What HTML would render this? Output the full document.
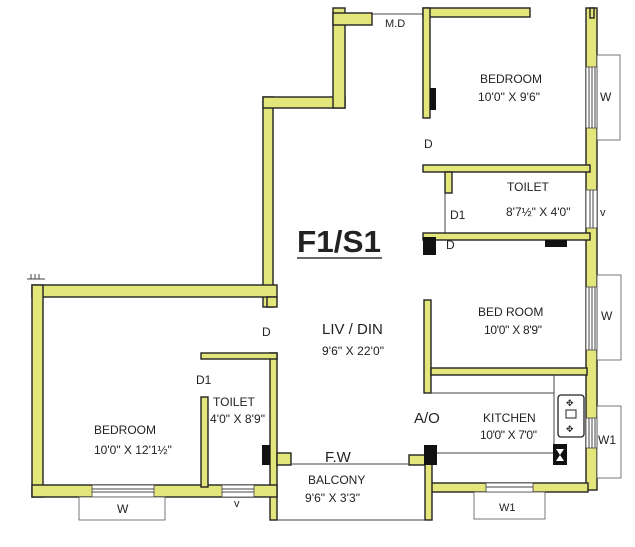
<!DOCTYPE html>
<html><head><style>
html,body{margin:0;padding:0;background:#fff;}
svg{display:block}
text{font-family:"Liberation Sans",sans-serif;fill:#222;}
.w{fill:#e3e67a;stroke:#222;stroke-width:1.4}
.b{fill:#111}
.l{stroke:#444;stroke-width:1;fill:none}
.win{fill:#fff;stroke:#555;stroke-width:0.8}
.t{font-size:12px}
.s{font-size:11px}
</style></head><body>
<svg width="635" height="547" viewBox="0 0 635 547" xmlns="http://www.w3.org/2000/svg">
<rect class="w" x="263" y="97" width="10" height="210"/>
<rect class="w" x="263" y="97" width="82" height="11"/>
<rect class="w" x="333" y="8" width="12" height="100"/>
<rect class="w" x="333" y="13" width="39" height="12"/>
<line class="l" x1="372" y1="14" x2="423" y2="14"/>
<text class="s" x="385" y="27">M.D</text>
<rect class="w" x="423" y="8" width="107" height="9"/>
<rect class="w" x="423" y="8" width="7" height="110"/>
<rect class="b" x="430" y="88" width="6" height="22"/>
<rect class="w" x="586" y="8" width="11" height="482"/>
<rect class="w" x="590" y="8" width="4" height="10"/>
<rect class="win" x="597" y="55" width="23" height="85"/>
<rect x="586" y="67" width="11" height="61" fill="#fff" stroke="#444" stroke-width="0.8"/>
<line class="l" x1="589" y1="67" x2="589" y2="128"/><line class="l" x1="592" y1="67" x2="592" y2="128"/><line class="l" x1="595" y1="67" x2="595" y2="128"/>
<text class="t" x="600" y="101">W</text>
<rect x="586" y="190" width="11" height="38" fill="#fff" stroke="#444" stroke-width="0.8"/>
<line class="l" x1="590" y1="190" x2="590" y2="228"/><line class="l" x1="593" y1="190" x2="593" y2="228"/>
<text class="s" x="600" y="216">v</text>
<rect class="win" x="597" y="275" width="24" height="85"/>
<rect x="586" y="287" width="11" height="63" fill="#fff" stroke="#444" stroke-width="0.8"/>
<line class="l" x1="589" y1="287" x2="589" y2="350"/><line class="l" x1="592" y1="287" x2="592" y2="350"/><line class="l" x1="595" y1="287" x2="595" y2="350"/>
<text class="t" x="601" y="320">W</text>
<rect class="win" x="597" y="406" width="24" height="72"/>
<rect x="586" y="418" width="11" height="30" fill="#fff" stroke="#444" stroke-width="0.8"/>
<line class="l" x1="589" y1="418" x2="589" y2="448"/><line class="l" x1="592" y1="418" x2="592" y2="448"/><line class="l" x1="595" y1="418" x2="595" y2="448"/>
<text class="t" x="598" y="444">W1</text>
<rect class="w" x="423" y="165" width="167" height="7"/>
<rect class="w" x="445" y="172" width="7" height="21"/>
<line class="l" x1="445" y1="193" x2="445" y2="233"/>
<rect class="w" x="423" y="233" width="167" height="7"/>
<rect class="b" x="423" y="237" width="13" height="18"/>
<rect class="b" x="545" y="240" width="22" height="7"/>
<text class="t" x="424" y="148">D</text>
<text class="t" x="450" y="219">D1</text>
<text class="t" x="446" y="249">D</text>
<text class="t" x="480" y="83">BEDROOM</text>
<text class="t" x="478" y="101" textLength="62">10'0" X 9'6"</text>
<text class="t" x="507" y="191">TOILET</text>
<text class="t" x="506" y="216">8'7½" X 4'0"</text>
<text x="297" y="252" style="font-size:31px;font-weight:bold" textLength="84" lengthAdjust="spacingAndGlyphs">F1/S1</text>
<line x1="297" y1="258" x2="382" y2="258" stroke="#333" stroke-width="1.5"/>
<rect class="w" x="424" y="300" width="7" height="93"/>
<rect class="w" x="431" y="368" width="156" height="7"/>
<line class="l" x1="431" y1="393" x2="554" y2="393"/>
<line class="l" x1="554" y1="375" x2="554" y2="446"/>
<rect x="558" y="395" width="26" height="42" rx="3" fill="#fff" stroke="#222" stroke-width="1.3"/>
<rect x="566" y="410" width="10" height="8" fill="#fff" stroke="#222"/>
<text x="566" y="406" style="font-size:9px">✥</text>
<text x="566" y="432" style="font-size:9px">✥</text>
<line class="l" x1="437" y1="453" x2="554" y2="453"/>
<rect class="b" x="553" y="444" width="14" height="21"/>
<path d="M556 449 L564 449 L560 455 Z M556 461 L564 461 L560 455 Z" fill="#fff"/>
<rect class="w" x="431" y="483" width="157" height="9"/>
<rect class="win" x="474" y="492" width="71" height="27"/>
<rect x="486" y="483" width="47" height="9" fill="#fff" stroke="#444" stroke-width="0.8"/>
<line class="l" x1="486" y1="487" x2="533" y2="487"/>
<text class="s" x="499" y="511">W1</text>
<text class="t" x="478" y="316">BED ROOM</text>
<text class="t" x="484" y="334" textLength="58">10'0" X 8'9"</text>
<text class="t" x="483" y="422">KITCHEN</text>
<text class="t" x="480" y="439" textLength="57">10'0" X 7'0"</text>
<text x="414" y="423" style="font-size:15px">A/O</text>
<rect class="w" x="409" y="455" width="22" height="10"/>
<rect class="w" x="425" y="455" width="7" height="65"/>
<rect class="b" x="424" y="445" width="13" height="20"/>
<rect class="w" x="270" y="353" width="7" height="167"/>
<rect class="w" x="277" y="453" width="14" height="12"/>
<rect class="b" x="262" y="445" width="8" height="20"/>
<line class="l" x1="291" y1="464" x2="409" y2="464"/>
<line class="l" x1="277" y1="520" x2="425" y2="520"/>
<text x="325" y="462" style="font-size:15px">F.W</text>
<text class="t" x="308" y="484">BALCONY</text>
<text class="t" x="305" y="502" textLength="55">9'6" X 3'3"</text>
<text x="322" y="334" style="font-size:15px">LIV / DIN</text>
<text class="t" x="322" y="355" textLength="62">9'6" X 22'0"</text>
<text class="t" x="262" y="336">D</text>
<rect class="w" x="32" y="285" width="245" height="12"/>
<rect class="w" x="32" y="285" width="11" height="212"/>
<rect class="w" x="32" y="485" width="245" height="12"/>
<rect class="w" x="201" y="353" width="76" height="6"/>
<rect class="w" x="201" y="397" width="7" height="90"/>
<rect class="w" x="267" y="297" width="10" height="10"/>
<rect x="92" y="485" width="62" height="12" fill="#fff" stroke="#444" stroke-width="0.8"/>
<line class="l" x1="92" y1="489" x2="154" y2="489"/><line class="l" x1="92" y1="492" x2="154" y2="492"/>
<rect x="222" y="485" width="32" height="12" fill="#fff" stroke="#444" stroke-width="0.8"/>
<line class="l" x1="222" y1="489" x2="254" y2="489"/><line class="l" x1="222" y1="492" x2="254" y2="492"/>
<rect class="win" x="79" y="497" width="86" height="23"/>
<text class="t" x="117" y="513">W</text>
<text class="s" x="234" y="507">v</text>
<line class="l" x1="27" y1="279" x2="45" y2="279"/>
<line class="l" x1="31" y1="274" x2="31" y2="279"/><line class="l" x1="35" y1="274" x2="35" y2="279"/><line class="l" x1="39" y1="274" x2="39" y2="279"/>
<text class="t" x="196" y="384">D1</text>
<text class="t" x="213" y="406">TOILET</text>
<text class="t" x="210" y="423" textLength="55">4'0" X 8'9"</text>
<text class="t" x="94" y="434">BEDROOM</text>
<text class="t" x="94" y="454">10'0" X 12'1½"</text>
</svg>
</body></html>
